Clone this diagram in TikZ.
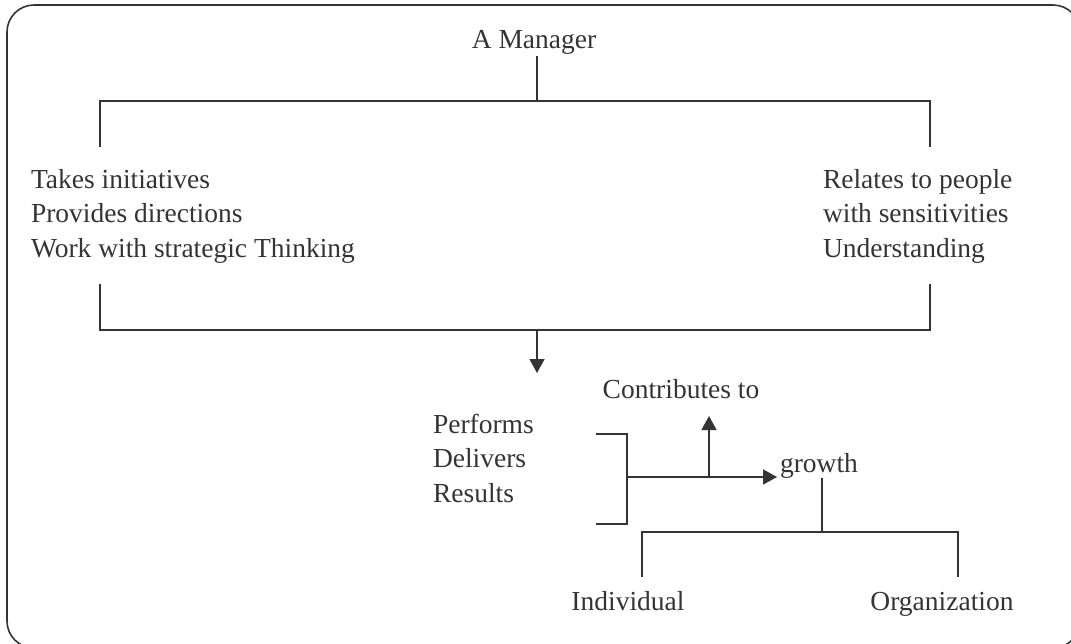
\documentclass[tikz,border=0pt]{standalone}
\usepackage{fontspec}
\setmainfont{Liberation Serif}
\usetikzlibrary{arrows.meta}
\definecolor{ink}{RGB}{52,52,56}
\begin{document}
\begin{tikzpicture}[x=1pt,y=-1pt,
    every node/.style={inner sep=0pt, outer sep=0pt, text=ink,
      font=\fontsize{27.5}{34.5}\selectfont},
    line/.style={draw=ink, line width=1.6pt},
    arr/.style={line, -{Triangle[length=14pt,width=15pt]}}]
  \useasboundingbox (0,0) rectangle (1071,643);
  % outer frame
  \draw[draw=ink, line width=1.6pt, rounded corners=27pt] (7,5) rectangle (1080,648);

  % top level
  \node[anchor=base] (mgr) at (534,48) {A Manager};
  \node[anchor=base west] (lefttxt) at (31,188)
    {\begin{tabular}[t]{@{}l@{}}Takes initiatives\\Provides directions\\Work with strategic Thinking\end{tabular}};
  \node[anchor=base west] (righttxt) at (823,188)
    {\begin{tabular}[t]{@{}l@{}}Relates to people\\with sensitivities\\Understanding\end{tabular}};

  \coordinate (topmid) at (537,101);
  \coordinate (topL) at (100,101);
  \coordinate (topR) at (930,101);
  \coordinate (topLe) at (100,147);
  \coordinate (topRe) at (930,147);
  \draw[line] (topmid |- mgr.south) ++(0,2) -- (topmid);
  \draw[line] (topLe) -- (topL) -- (topR) -- (topRe);

  \coordinate (botL) at (100,330);
  \coordinate (botR) at (930,330);
  \coordinate (botLe) at (100,284);
  \coordinate (botRe) at (930,284);
  \coordinate (botmid) at (537,330);
  \coordinate (downtip) at (537,373);
  \draw[line] (botLe) -- (botL) -- (botR) -- (botRe);
  \draw[arr] (botmid) -- (downtip);

  % outcome part
  \node[anchor=base west] (perf) at (433,433)
    {\begin{tabular}[t]{@{}l@{}}Performs\\Delivers\\Results\end{tabular}};
  \node[anchor=base] (contrib) at (681,398) {Contributes to};
  \node[anchor=base west] (growth) at (780,472) {growth};

  \coordinate (brT) at (596,434);
  \coordinate (brTc) at (627,434);
  \coordinate (brB) at (596,524);
  \coordinate (brBc) at (627,524);
  \coordinate (brMid) at (627,477);
  \coordinate (upfoot) at (709,477);
  \coordinate (uptip) at (709,416);
  \coordinate (righttip) at (777,477);
  \draw[line] (brT) -- (brTc) -- (brBc) -- (brB);
  \draw[arr] (brMid) -- (righttip);
  \draw[arr] (upfoot) -- (uptip);

  \node[anchor=base] (indiv) at (628,610) {Individual};
  \node[anchor=base] (org) at (942,610) {Organization};

  \coordinate (grfoot) at (822,532);
  \coordinate (grL) at (642,532);
  \coordinate (grR) at (958,532);
  \coordinate (grLe) at (642,577);
  \coordinate (grRe) at (958,577);
  \draw[line] (grfoot |- growth.south) -- (grfoot);
  \draw[line] (grLe) -- (grL) -- (grR) -- (grRe);
\end{tikzpicture}
\end{document}
